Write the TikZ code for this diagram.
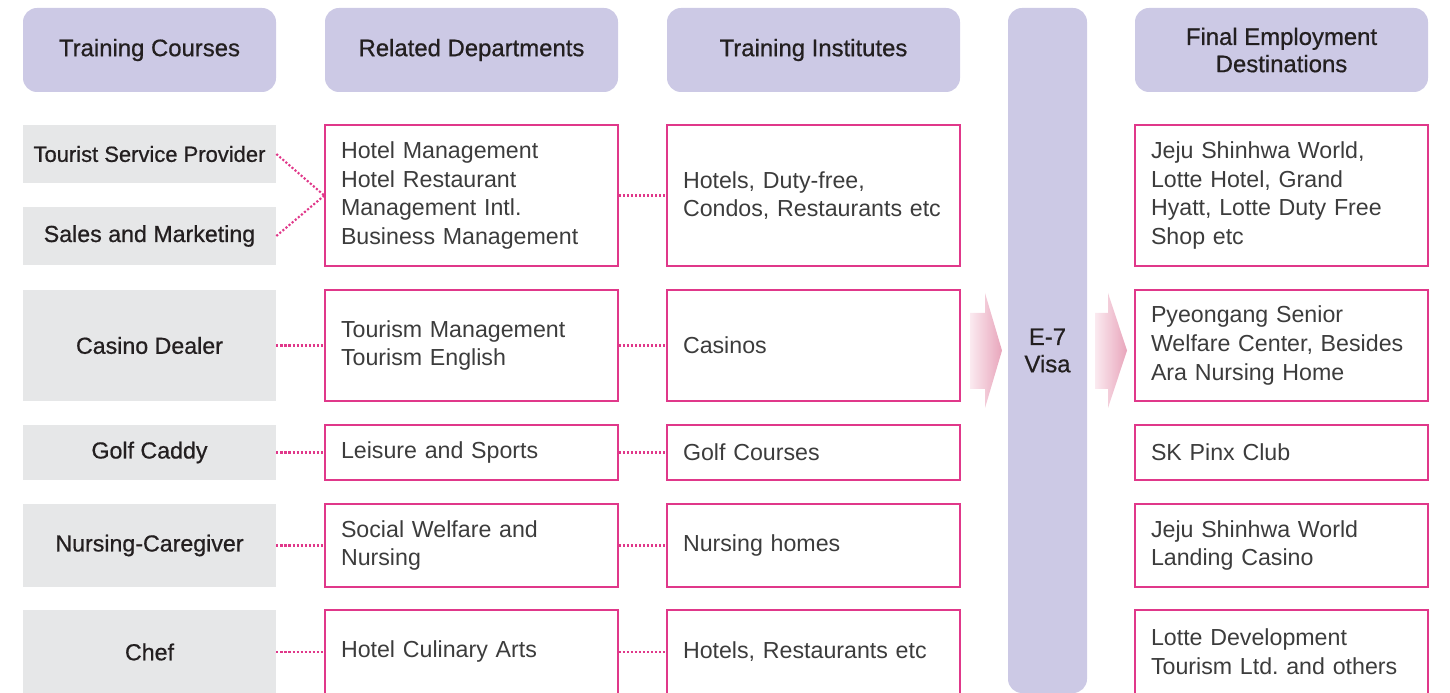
\documentclass[tikz,border=0pt]{standalone}
\usepackage{fontspec}
\setmainfont{Liberation Sans}
\newfontfamily\headfont[FakeBold=0.7]{Liberation Sans}
\usepackage{tikz}
\usetikzlibrary{calc}

\definecolor{headlav}{HTML}{CCC9E5}
\definecolor{graybox}{HTML}{E6E7E8}
\definecolor{magline}{HTML}{E0388A}
\definecolor{arrowlight}{HTML}{FBEAF0}
\definecolor{arrowdark}{HTML}{E8A5BB}
\definecolor{headtext}{HTML}{231F20}
\definecolor{bodytext}{HTML}{3C3C3C}

\begin{document}
\frenchspacing
\begin{tikzpicture}[
  head/.style={fill=headlav, rounded corners=0.28cm, minimum height=1.68cm, align=center, text=headtext, font=\headfont\fontsize{13.6}{15.5}\selectfont},
  course/.style={fill=graybox, minimum width=5.06cm, inner xsep=1pt, align=center, text=headtext, font=\headfont\fontsize{13.2}{15.5}\selectfont},
  infobox/.style={draw=magline, line width=0.8pt, minimum width=5.86cm, text width=5.22cm, inner xsep=0.32cm, align=left, text=bodytext, font=\fontsize{13.2}{16.4}\selectfont},
  link/.style={magline, line width=1.2pt, dash pattern=on 1.2pt off 1.1pt},
  visashade/.style={left color=arrowlight, right color=arrowdark}
]
\useasboundingbox (0,0) rectangle (29,-13.86);

% column heads
\node [head, minimum width=5.06cm] (hCourse) at (2.99,-1.0) {Training Courses};
\node [head, minimum width=5.86cm] (hDept) at (9.43,-1.0) {Related Departments};
\node [head, minimum width=5.86cm] (hInst) at (16.27,-1.0) {Training Institutes};
\node [head, minimum width=5.86cm] (hFinal) at (25.63,-1.0) {Final Employment\\Destinations};
\node [head, minimum width=1.58cm, minimum height=13.7cm] (visa) at (20.95,-7.01) {E-7\\Visa};

% training courses
\node [course, minimum height=1.16cm, font=\headfont\fontsize{12.5}{15.5}\selectfont] (cTour) at (2.99,-3.08) {Tourist Service Provider};
\node [course, minimum height=1.16cm] (cSales) at (2.99,-4.72) {Sales and Marketing};
\node [course, minimum height=2.22cm] (cCasino) at (2.99,-6.91) {Casino Dealer};
\node [course, minimum height=1.10cm] (cGolf) at (2.99,-9.05) {Golf Caddy};
\node [course, minimum height=1.66cm] (cNurse) at (2.99,-10.91) {Nursing-Caregiver};
\node [course, minimum height=1.68cm] (cChef) at (2.99,-13.04) {Chef};

% related departments
\node [infobox, minimum height=2.82cm] (dHotel) at (9.43,-3.91) {Hotel Management\\Hotel Restaurant\\Management Intl.\\Business Management};
\node [infobox, minimum height=2.22cm] (dTour) at (9.43,-6.91) {Tourism Management\\Tourism English};
\node [infobox, minimum height=1.10cm] (dLeisure) at (9.43,-9.05) {Leisure and Sports};
\node [infobox, minimum height=1.66cm] (dWelfare) at (9.43,-10.91) {Social Welfare and\\Nursing};
\node [infobox, minimum height=1.68cm] (dCulinary) at (9.43,-13.04) {Hotel Culinary Arts};

% training institutes
\node [infobox, minimum height=2.82cm] (iHotel) at (16.27,-3.91) {Hotels, Duty-free,\\Condos, Restaurants etc};
\node [infobox, minimum height=2.22cm] (iCasino) at (16.27,-6.91) {Casinos};
\node [infobox, minimum height=1.10cm] (iGolf) at (16.27,-9.05) {Golf Courses};
\node [infobox, minimum height=1.66cm] (iNurse) at (16.27,-10.91) {Nursing homes};
\node [infobox, minimum height=1.68cm] (iRest) at (16.27,-13.04) {Hotels, Restaurants etc};

% final destinations
\node [infobox, minimum height=2.82cm] (fJeju) at (25.63,-3.91) {Jeju Shinhwa World,\\Lotte Hotel, Grand\\Hyatt, Lotte Duty Free\\Shop etc};
\node [infobox, minimum height=2.22cm] (fSenior) at (25.63,-6.91) {Pyeongang Senior\\Welfare Center, Besides\\Ara Nursing Home};
\node [infobox, minimum height=1.10cm] (fPinx) at (25.63,-9.05) {SK Pinx Club};
\node [infobox, minimum height=1.66cm] (fLanding) at (25.63,-10.91) {Jeju Shinhwa World\\Landing Casino};
\node [infobox, minimum height=1.68cm] (fLotte) at (25.63,-13.04) {Lotte Development\\Tourism Ltd. and others};

% dotted links
\draw [link] (cTour.east) -- (dHotel.west);
\draw [link] (cSales.east) -- (dHotel.west);
\draw [link] (cCasino.east) -- (dTour.west);
\draw [link] (cGolf.east) -- (dLeisure.west);
\draw [link] (cNurse.east) -- (dWelfare.west);
\draw [link] (cChef.east) -- (dCulinary.west);
\draw [link] (dHotel.east) -- (iHotel.west);
\draw [link] (dTour.east) -- (iCasino.west);
\draw [link] (dLeisure.east) -- (iGolf.west);
\draw [link] (dWelfare.east) -- (iNurse.west);
\draw [link] (dCulinary.east) -- (iRest.west);

% arrows into and out of the visa bar
\coordinate (A1) at (19.40,-6.26);
\coordinate (A2) at (21.90,-6.26);
\shade [visashade] (A1) -- ++(0.30,0) -- ++(0,0.40) -- ++(0.34,-1.15) -- ++(-0.34,-1.15) -- ++(0,0.38) -- ++(-0.30,0) -- cycle;
\shade [visashade] (A2) -- ++(0.26,0) -- ++(0,0.40) -- ++(0.38,-1.15) -- ++(-0.38,-1.15) -- ++(0,0.38) -- ++(-0.26,0) -- cycle;

\end{tikzpicture}
\end{document}
